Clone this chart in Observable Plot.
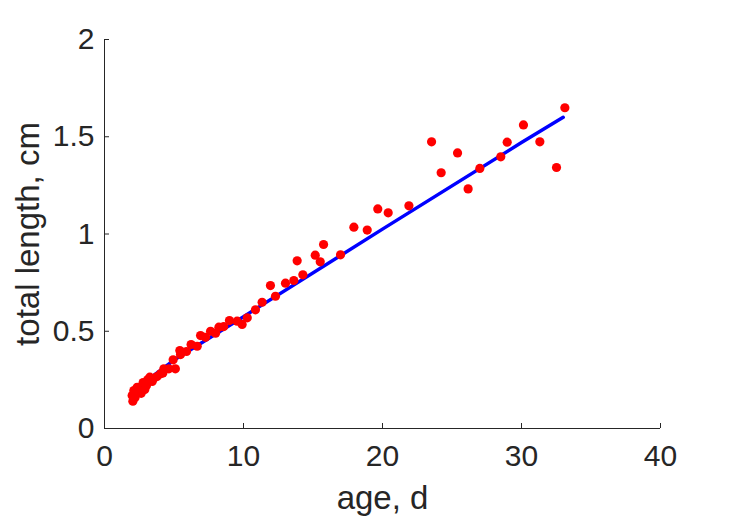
<!DOCTYPE html>
<html>
<head>
<meta charset="utf-8">
<script src="https://cdn.jsdelivr.net/npm/d3@7"></script>
<script src="https://cdn.jsdelivr.net/npm/@observablehq/plot@0.6"></script>
<style>
  html, body { margin: 0; padding: 0; background: #fff; }
  svg { display: block; }
</style>
</head>
<body>
<div id="chart"></div>
<script>
const ages = [2.04, 1.99, 2.11, 2.2, 2.35, 2.64, 2.78, 2.9, 3.02, 3.1, 3.26, 3.43, 3.5, 3.78, 4.03, 4.2, 4.27, 4.63, 5.10, 4.94, 5.42, 5.47, 5.90, 6.23, 6.67, 6.91, 7.27, 7.63, 7.99, 8.23, 8.58, 8.99, 9.54, 9.90, 10.27, 10.86, 11.34, 11.94, 12.30, 13.02, 13.62, 13.86, 14.27, 15.16, 15.52, 15.76, 16.98, 17.94, 18.90, 19.66, 20.41, 21.90, 23.53, 24.22, 25.40, 26.16, 27.00, 28.51, 28.97, 30.14, 31.32, 32.52, 33.12];
const lengths = [0.140, 0.170, 0.195, 0.160, 0.212, 0.181, 0.236, 0.200, 0.221, 0.250, 0.264, 0.242, 0.255, 0.267, 0.281, 0.285, 0.307, 0.307, 0.307, 0.353, 0.401, 0.380, 0.396, 0.432, 0.423, 0.478, 0.469, 0.500, 0.490, 0.521, 0.524, 0.555, 0.552, 0.535, 0.569, 0.610, 0.649, 0.735, 0.680, 0.747, 0.761, 0.862, 0.790, 0.891, 0.857, 0.946, 0.893, 1.035, 1.020, 1.129, 1.109, 1.145, 1.474, 1.315, 1.417, 1.232, 1.337, 1.397, 1.472, 1.561, 1.474, 1.342, 1.649];
const fitAges = [2, 5, 10, 20, 30, 33];
const fitLengths = [0.19, 0.352, 0.575, 1.025, 1.47, 1.60];
const xTicks = [0, 10, 20, 30, 40];
const yTicks = [0, 0.5, 1, 1.5, 2];
const xLabel = "age, d";
const yLabel = "total length, cm";

const points = ages.map((a, i) => ({age: a, len: lengths[i]}));
const fit = fitAges.map((a, i) => ({age: a, len: fitLengths[i]}));
const ink = "#262626";
const font = "'Liberation Sans', Arial, Helvetica, sans-serif";

const chart = Plot.plot({
  width: 729,
  height: 521,
  marginLeft: 104,
  marginRight: 69,
  marginTop: 39,
  marginBottom: 93,
  style: {fontFamily: font, color: ink, background: "#fff"},
  x: {domain: [0, 40]},
  y: {domain: [0, 2]},
  marks: [
    Plot.ruleY([0], {stroke: ink, strokeWidth: 1}),
    Plot.ruleX([0], {stroke: ink, strokeWidth: 1}),
    Plot.axisX(xTicks, {tickSize: -5, text: null, stroke: ink, label: null}),
    Plot.axisY(yTicks, {tickSize: -5, text: null, stroke: ink, label: null}),
    Plot.axisX(xTicks, {tickSize: 0, tickPadding: 16, fontSize: 30, fill: ink, label: null, tickFormat: d => String(d)}),
    Plot.axisY(yTicks, {tickSize: 0, tickPadding: 10, fontSize: 30, fill: ink, label: null, tickFormat: d => String(d)}),
    Plot.text([xLabel], {frameAnchor: "bottom", dy: 80, fontSize: 33, fill: ink, text: d => d}),
    Plot.text([yLabel], {frameAnchor: "left", textAnchor: "middle", dx: -76, rotate: -90, fontSize: 33, fill: ink, text: d => d}),
    Plot.line(fit, {x: "age", y: "len", stroke: "#0000ff", strokeWidth: 3.5}),
    Plot.dot(points, {x: "age", y: "len", r: 4.6, fill: "#ff0000", stroke: "none"})
  ]
});
document.getElementById("chart").appendChild(chart);
</script>
</body>
</html>
